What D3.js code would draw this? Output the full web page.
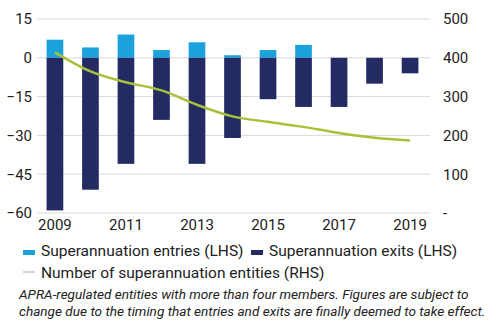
<!DOCTYPE html>
<html>
<head>
<meta charset="utf-8">
<script src="https://cdn.jsdelivr.net/npm/d3@7"></script>
<style>
  body { margin: 0; background: #fff; }
  svg { font-family: Roboto, "Noto Sans", sans-serif; }
</style>
</head>
<body>
<div id="chart-area"></div>
<script>
// Super entity entries/exits (LHS) and number of entities (RHS)
const years = ['2009', '2010', '2011', '2012', '2013', '2014', '2015', '2016', '2017', '2018', '2019']
const entries = [7, 4, 9, 3, 6, 1, 3, 5, 0, 0, 0]
const exits = [-59, -51, -41, -24, -41, -31, -16, -19, -19, -10, -6]
const entities = [414, 365, 337, 316, 279, 249, 235, 222, 206, 194, 187]
const leftTicks = [15, 0, -15, -30, -45, -60]
const rightTicks = [500, 400, 300, 200, 100, 0]
const yearLabels = ['2009', '2011', '2013', '2015', '2017', '2019']

const width = 500
const height = 334
const plot = { left: 37, right: 430, top: 19, bottom: 213 }

const entryColor = '#1ba2dd'
const exitColor = '#242b63'
const lineColor = '#a6c23a'
const textColor = '#222'

const svg = d3.select('#chart-area')
  .append('svg')
    .attr('width', width)
    .attr('height', height)

const scaleX = d3.scaleBand()
  .domain(years)
  .range([plot.left, plot.right - 2])
  .paddingInner(0.53)
  .paddingOuter(0.27)

const scaleY = d3.scaleLinear()
  .domain([-60, 15])
  .range([plot.bottom, plot.top])

const scaleY2 = d3.scaleLinear()
  .domain([0, 500])
  .range([plot.bottom, plot.top])

// gridlines
svg.append('g')
  .selectAll('line')
  .data(leftTicks)
  .enter()
  .append('line')
    .attr('x1', plot.left)
    .attr('x2', plot.right)
    .attr('y1', d => scaleY(d))
    .attr('y2', d => scaleY(d))
    .attr('stroke', '#d9d9d9')
    .attr('stroke-width', 1)

function styleTicks(axis) {
  axis.select('.domain').remove()
  axis.selectAll('text')
    .attr('font-size', 15)
    .attr('fill', textColor)
    .attr('font-family', 'Roboto')
}

// left axis
const yAxisCall = d3.axisLeft(scaleY)
  .tickValues(leftTicks)
  .tickSize(0)
  .tickPadding(4)
svg.append('g')
  .attr('transform', `translate(${plot.left - 1}, 0)`)
  .call(yAxisCall)
  .call(styleTicks)

// right axis
const y2AxisCall = d3.axisRight(scaleY2)
  .tickValues(rightTicks)
  .tickSize(0)
  .tickPadding(13)
  .tickFormat(d => d === 0 ? '-' : d)
svg.append('g')
  .attr('transform', `translate(${plot.right}, 0)`)
  .call(y2AxisCall)
  .call(styleTicks)

// bottom axis, every second year
const xAxisCall = d3.axisBottom(scaleX)
  .tickValues(yearLabels)
  .tickSize(0)
  .tickPadding(6)
svg.append('g')
  .attr('transform', `translate(0, ${plot.bottom})`)
  .call(xAxisCall)
  .call(styleTicks)

// bars
svg.append('g')
  .selectAll('rect')
  .data(years)
  .enter()
  .append('rect')
    .attr('x', d => scaleX(d))
    .attr('y', (d, i) => scaleY(entries[i]))
    .attr('width', scaleX.bandwidth())
    .attr('height', (d, i) => scaleY(0) - scaleY(entries[i]))
    .attr('fill', entryColor)

svg.append('g')
  .selectAll('rect')
  .data(years)
  .enter()
  .append('rect')
    .attr('x', d => scaleX(d))
    .attr('y', scaleY(0))
    .attr('width', scaleX.bandwidth())
    .attr('height', (d, i) => scaleY(exits[i]) - scaleY(0))
    .attr('fill', exitColor)

// number of entities
const line = d3.line()
  .x((d, i) => scaleX(years[i]) + scaleX.bandwidth() / 2)
  .y(d => scaleY2(d))
  .curve(d3.curveMonotoneX)

svg.append('path')
  .datum(entities)
  .attr('d', line)
  .attr('fill', 'none')
  .attr('stroke', lineColor)
  .attr('stroke-width', 2.5)

// legend
const legend = svg.append('g')
  .attr('font-size', 15.5)
  .attr('fill', textColor)

legend.append('rect')
  .attr('x', 23).attr('y', 250)
  .attr('width', 12).attr('height', 5)
  .attr('fill', entryColor)
legend.append('text')
  .attr('x', 41).attr('y', 256)
  .text('Superannuation entries (LHS)')

legend.append('rect')
  .attr('x', 251).attr('y', 250)
  .attr('width', 12).attr('height', 5)
  .attr('fill', exitColor)
legend.append('text')
  .attr('x', 269).attr('y', 256)
  .text('Superannuation exits (LHS)')

legend.append('line')
  .attr('x1', 23).attr('x2', 35)
  .attr('y1', 272).attr('y2', 272)
  .attr('stroke', '#aaa')
  .attr('stroke-width', 1)
legend.append('text')
  .attr('x', 41).attr('y', 278)
  .text('Number of superannuation entities (RHS)')

// footnote
const note = svg.append('text')
  .attr('x', 19)
  .attr('font-size', 13.6)
  .attr('font-style', 'italic')
  .attr('fill', textColor)
note.append('tspan')
  .attr('x', 19).attr('y', 299)
  .text('APRA-regulated entities with more than four members. Figures are subject to')
note.append('tspan')
  .attr('x', 19).attr('y', 316)
  .text('change due to the timing that entries and exits are finally deemed to take effect.')
</script>
</body>
</html>
